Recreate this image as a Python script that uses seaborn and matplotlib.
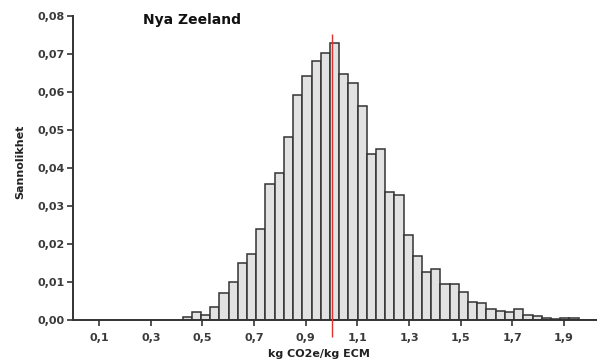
import matplotlib
matplotlib.use("Agg")
import matplotlib.pyplot as plt
import seaborn as sns
import numpy as np
import pandas as pd

# Data
bin_start = 0.4233
bin_width = 0.03566
probabilities = [
    0.0009, 0.0021, 0.0014, 0.0034, 0.0072, 0.0100, 0.0151, 0.0174, 0.0240, 0.0359,
    0.0387, 0.0482, 0.0593, 0.0642, 0.0680, 0.0701, 0.0729, 0.0648, 0.0622, 0.0562,
    0.0438, 0.0450, 0.0338, 0.0329, 0.0224, 0.0170, 0.0128, 0.0134, 0.0095, 0.0095,
    0.0074, 0.0049, 0.0045, 0.0029, 0.0025, 0.0021, 0.0029, 0.0015, 0.0011, 0.0006,
    0.0003, 0.0005, 0.0005, 0.0002, 0.0002,
]
mean_value = 1.0
x_ticks = [0.1, 0.3, 0.5, 0.7, 0.9, 1.1, 1.3, 1.5, 1.7, 1.9]
y_ticks = [0.00, 0.01, 0.02, 0.03, 0.04, 0.05, 0.06, 0.07, 0.08]
title = "Nya Zeeland"
x_label = "kg CO2e/kg ECM"
y_label = "Sannolikhet"

sns.set_theme(style="ticks")
plt.rcParams['font.family'] = ['DejaVu Sans']

n = len(probabilities)
edges = [float(bin_start + bin_width * i) for i in range(n + 1)]
centers = [(edges[i] + edges[i + 1]) / 2 for i in range(n)]
df = pd.DataFrame({"value": centers, "prob": probabilities})

fig = plt.figure(figsize=(5.97, 3.62), dpi=100)
ax = fig.add_axes([0.1228, 0.1152, 0.8772, 0.8414])

sns.histplot(data=df, x="value", weights="prob", bins=edges, stat="count",
             color="#e2e2e2", edgecolor="#333333", linewidth=1.1, alpha=1.0, ax=ax)

ax.set_xlim(0, edges[-1])
ax.set_ylim(0, 0.08)

ax.vlines(mean_value, -0.0044, 0.0751, color="#e03030", linewidth=1.0, clip_on=False, zorder=5)

ax.set_xticks(x_ticks)
ax.set_xticklabels([f"{v:.1f}".replace(".", ",") for v in x_ticks])
ax.set_yticks(y_ticks)
ax.set_yticklabels([f"{v:.2f}".replace(".", ",") for v in y_ticks])

for lab in ax.get_xticklabels() + ax.get_yticklabels():
    lab.set_fontsize(8)
    lab.set_fontweight("bold")
    lab.set_color("#3a3a3a")

ax.tick_params(axis="both", length=4, width=1.2, color="#333333", pad=2)
ax.tick_params(axis="x", pad=5)

sns.despine(ax=ax)
for s in ["left", "bottom"]:
    ax.spines[s].set_color("#333333")
    ax.spines[s].set_linewidth(1.4)

ax.set_xlabel("")
ax.set_ylabel("")
fig.text(319 / 597, 1 - 354 / 362, x_label, ha="center", va="center",
         fontsize=8, fontweight="bold", color="#222222")
fig.text(20 / 597, 1 - 162 / 362, y_label, ha="center", va="center", rotation=90,
         fontsize=8, fontweight="bold", color="#222222")
fig.text(143 / 597, 1 - 20 / 362, title, ha="left", va="center",
         fontsize=10, fontweight="bold", color="#111111")

fig.savefig("out.png", dpi=100)
